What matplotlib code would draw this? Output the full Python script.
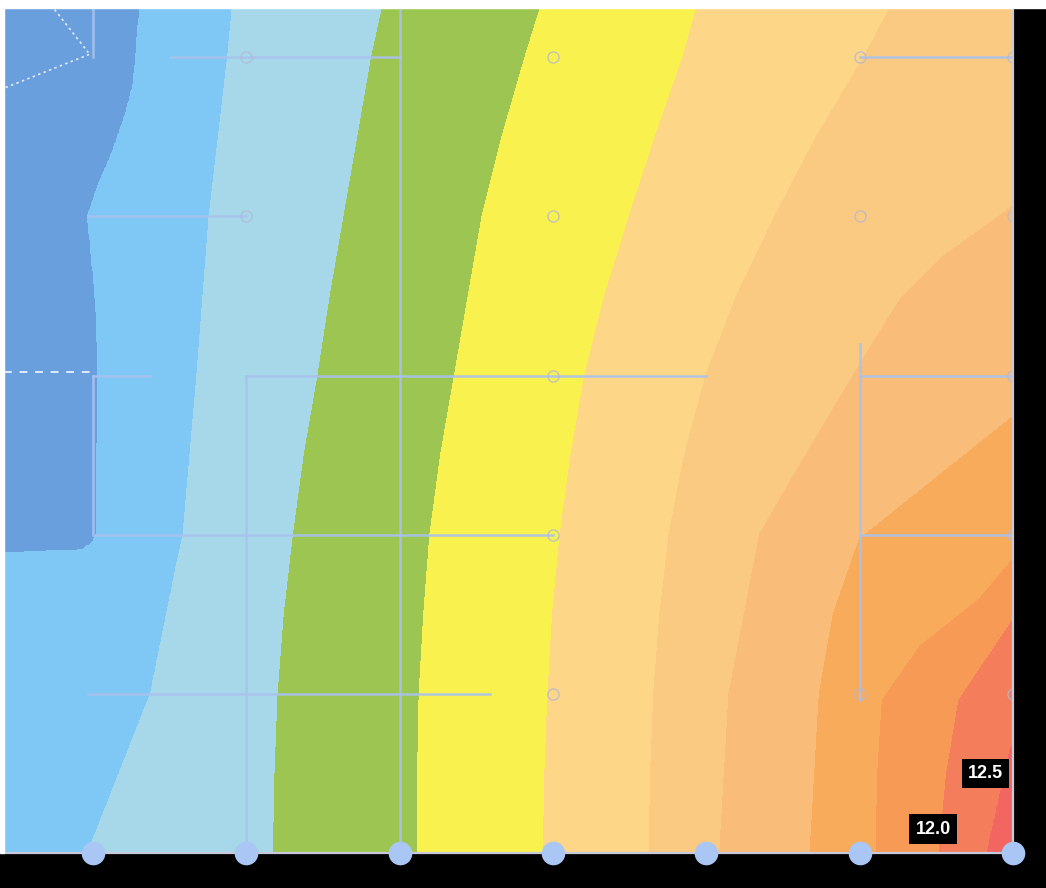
import numpy as np
import matplotlib
matplotlib.use("Agg")
import matplotlib.pyplot as plt
from matplotlib.patches import Rectangle

# contour levels (value of each band edge) and band fill colours, low -> high
levels = [7.0, 7.5, 8.0, 8.5, 9.0, 9.5, 10.0, 10.5, 11.0, 11.5, 12.0, 12.5, 13.0]
band_colors = ['#6a9fdd', '#7fc8f6', '#a6d8ea', '#9cc552', '#f9f24e', '#fdd688',
               '#fbca82', '#fabd79', '#f8ab5a', '#f69a56', '#f47d5c', '#f26560']

# where each contour line crosses the picture: row (grid units) -> column (grid units)
half_rows = [0.0, 0.5, 1.0, 1.5, 2.0, 2.5, 3.0, 3.5, 4.0, 4.5, 5.0, 5.31]
edge_rows = [
    [0.0, 5.31],                                                            # 7.0 (outside)
    [0.0, 1.87, 1.89, 1.90, 1.95, 2.01, 2.5, 3.0, 3.5, 4.0, 4.2, 4.4, 4.65, 4.84, 5.31],  # 7.5
    [0.0, 1.0, 2.0, 3.0, 4.0, 5.0, 5.31],                                   # 8.0
    half_rows,                                                              # 8.5
    half_rows,                                                              # 9.0
    half_rows,                                                              # 9.5
    half_rows,                                                              # 10.0
    [0.0, 1.0, 2.0, 2.22, 3.0, 3.47, 3.75, 4.06, 5.0, 5.31],                # 10.5
    [0.0, 1.0, 1.5, 1.97, 2.74, 3.0, 4.0, 5.31],                            # 11.0
    [0.0, 0.5, 0.96, 1.3, 1.59, 1.84, 2.0, 3.0, 5.31],                      # 11.5
    [0.0, 0.5, 0.96, 1.46, 2.0, 3.0, 5.31],                                 # 12.0
    [0.0, 0.65, 1.0, 2.0, 5.31],                                            # 12.5
    [0.0, 5.31],                                                            # 13.0 (outside)
]
edge_cols = [
    [-5.0, -5.0],
    [-3.0, -3.0, -0.2, -0.07, 0.0, 0.03, 0.03, 0.04, 0.02, -0.03, 0.04, 0.13, 0.22, 0.27, 0.31],
    [-0.03, 0.38, 0.59, 0.68, 0.76, 0.88, 0.91],
    [1.18, 1.19, 1.21, 1.25, 1.31, 1.38, 1.47, 1.55, 1.64, 1.73, 1.82, 1.89],
    [2.12, 2.12, 2.13, 2.16, 2.20, 2.27, 2.36, 2.45, 2.54, 2.67, 2.82, 2.92],
    [2.94, 2.95, 2.97, 3.00, 3.05, 3.12, 3.21, 3.34, 3.50, 3.67, 3.85, 3.94],
    [3.63, 3.64, 3.66, 3.70, 3.76, 3.86, 4.00, 4.20, 4.45, 4.72, 5.03, 5.20],
    [4.09, 4.15, 4.35, 4.48, 4.96, 5.26, 5.55, 6.0, 7.1, 7.3],
    [4.68, 4.74, 4.83, 5.0, 6.0, 6.35, 7.5, 9.0],
    [5.11, 5.12, 5.15, 5.40, 5.78, 6.0, 6.15, 7.5, 10.0],
    [5.52, 5.57, 5.65, 6.0, 6.4, 7.9, 11.0],
    [5.83, 5.98, 6.2, 7.0, 12.0],
    [20.0, 20.0],
]

# structural grid drawn over the contours
h_lines = [(5, 0.50, 2.0), (5, 5.0, 6.0), (4, -0.03, 1.0), (3, 0.0, 0.37), (3, 1.0, 4.0),
           (3, 5.0, 6.0), (2, 0.02, 3.0), (2, 5.0, 6.0), (1, -0.03, 2.59)]
v_lines = [(0, 5.0, 5.31), (0, 2.0, 3.0), (1, 0.0, 3.0), (2, 0.0, 5.31), (5, 0.96, 3.2)]
open_nodes_x = [1, 3, 5, 6, 1, 3, 5, 6, 3, 6, 3, 6, 3, 5, 6]
open_nodes_y = [5, 5, 5, 5, 4, 4, 4, 4, 3, 3, 2, 2, 1, 1, 1]
support_x = [0, 1, 2, 3, 4, 5, 6]

# value tags
tag_text = ['12.5', '12.0']
tag_x = [5.82, 5.48]
tag_y = [0.50, 0.15]

x_lo, x_hi, y_lo, y_hi = -0.58, 6.0, 0.0, 5.31

# build the field from the contour crossings
xs = np.linspace(x_lo, x_hi, 700)
ys = np.linspace(y_lo, y_hi, 600)
Z = np.empty((len(ys), len(xs)))
for j, y in enumerate(ys):
    cross = [np.interp(y, r, c) for r, c in zip(edge_rows, edge_cols)]
    Z[j] = np.interp(xs, cross, levels)

fig = plt.figure(figsize=(10.46, 8.88), dpi=100, facecolor='black')
ax = fig.add_axes([4 / 1046, 35 / 888, 1009 / 1046, 845 / 888])
cs = ax.contourf(xs, ys, Z, levels=levels, colors=band_colors)
cs.set_edgecolor('face')
cs.set_linewidth(0.6)

gcol = '#a9c2ee'
for r, c0, c1 in h_lines:
    ax.plot([c0, c1], [r, r], color=gcol, lw=1.8, alpha=0.9)
for c, r0, r1 in v_lines:
    ax.plot([c, c], [r0, r1], color=gcol, lw=1.8, alpha=0.9)

# white dashed outline in the top-left bay
ax.plot([-0.57, -0.02], [4.81, 5.02], color='white', lw=1.2, ls=(0, (1.5, 2)), alpha=0.8)
ax.plot([-0.25, -0.03], [5.30, 5.03], color='white', lw=1.2, ls=(0, (1.5, 2)), alpha=0.8)
ax.plot([-0.58, -0.02], [3.02, 3.02], color='white', lw=1.4, ls=(0, (4, 4)), alpha=0.8)

ax.plot(open_nodes_x, open_nodes_y, 'o', ls='none', ms=8, mfc='none', mec='#b4b8d4', mew=1.0, alpha=0.8)
ax.plot(support_x, [0] * len(support_x), 'o', ls='none', ms=16, color='#a9c6f4', clip_on=False, zorder=5)

ax.plot([x_hi, x_hi], [y_lo, y_hi], color='#c9c9dc', lw=1.6, clip_on=False)
ax.plot([x_lo, x_hi], [y_lo, y_lo], color='#c9c9dc', lw=1.6, clip_on=False)

for t, tx, ty in zip(tag_text, tag_x, tag_y):
    ax.text(tx, ty, t, color='white', fontsize=13, fontweight='bold', ha='center', va='center',
            family='Liberation Sans', bbox=dict(boxstyle='square,pad=0.35', fc='black', ec='none'))

ax.set_xlim(x_lo, x_hi)
ax.set_ylim(y_lo, y_hi)
ax.axis('off')

fig.add_artist(Rectangle((0, 880 / 888), 1, 8 / 888, transform=fig.transFigure, color='white'))
fig.add_artist(Rectangle((0, 35 / 888), 4 / 1046, 845 / 888, transform=fig.transFigure, color='white'))

fig.savefig('out.png', dpi=100, facecolor='black')
